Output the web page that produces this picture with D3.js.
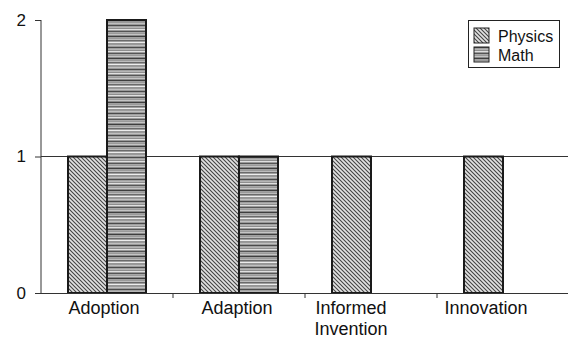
<!DOCTYPE html>
<html><head><meta charset="utf-8">
<script src="https://cdn.jsdelivr.net/npm/d3@7"></script>
<style>
html,body{margin:0;padding:0;background:#fff;}
svg{display:block;font-family:"Liberation Sans",Arial,sans-serif;}
</style></head>
<body><svg id="c" width="568" height="339"></svg>
<script>
const categories = ["Adoption", "Adaption", "Informed\nInvention", "Innovation"];
const seriesNames = ["Physics", "Math"];
const physics = [1, 1, 1, 1];
const math = [2, 1, 0, 0];
const yTicks = [0, 1, 2];
const gridValues = [1];

const svg = d3.select("#c");
const defs = svg.append("defs");

// Physics: diagonal hatch
const p1 = defs.append("pattern").attr("id","pPhys").attr("patternUnits","userSpaceOnUse")
  .attr("width",4).attr("height",4);
p1.append("rect").attr("width",4).attr("height",4).attr("fill","#e2e2e2");
p1.append("path").attr("d","M-1,-1L5,5M-1,3L1,5M3,-1L5,1").attr("stroke","#444").attr("stroke-width",1.1);

// Math: horizontal irregular stripes
const rows = ["#9a9a9a","#c0c0c0","#9a9a9a","#4a4a4a","#a0a0a0","#b5b5b5","#8e8e8e","#e0e0e0","#9a9a9a","#555555","#a8a8a8","#9a9a9a","#c5c5c5","#8a8a8a","#3e3e3e","#a0a0a0","#9a9a9a","#bcbcbc","#6a6a6a","#9e9e9e","#ececec","#959595"];
const p2 = defs.append("pattern").attr("id","pMath").attr("patternUnits","userSpaceOnUse")
  .attr("width",4).attr("height",rows.length);
rows.forEach((c,i)=>p2.append("rect").attr("x",0).attr("y",i).attr("width",4).attr("height",1).attr("fill",c));

const fills = {Physics:"url(#pPhys)", Math:"url(#pMath)"};

const x = d3.scaleBand().domain(categories).range([41, 569]).padding(0);
const xs = d3.scaleBand().domain(seriesNames).range([27, 105]).padding(0);
const y = d3.scaleLinear().domain([0, 2]).range([293, 20]);

// gridline
svg.selectAll(".grid").data(gridValues).enter().append("line")
  .attr("x1", 41).attr("x2", 568).attr("y1", d=>y(d)).attr("y2", d=>y(d))
  .attr("stroke","#333").attr("stroke-width",1).attr("shape-rendering","crispEdges");

// bars
const data = [];
categories.forEach((c,i)=>{
  data.push({cat:c, s:"Physics", v:physics[i]});
  data.push({cat:c, s:"Math", v:math[i]});
});
svg.selectAll(".bar").data(data.filter(d=>d.v>0)).enter().append("rect")
  .attr("x", d=>x(d.cat)+xs(d.s))
  .attr("y", d=>y(d.v))
  .attr("width", xs.bandwidth())
  .attr("height", d=>y(0)-y(d.v))
  .attr("fill", d=>fills[d.s])
  .attr("stroke","#1a1a1a").attr("stroke-width",2);

// baseline
svg.append("line").attr("x1",41).attr("x2",568).attr("y1",y(0)).attr("y2",y(0))
  .attr("stroke","#333").attr("stroke-width",1).attr("shape-rendering","crispEdges");

// y axis
const yAxis = d3.axisLeft(y).tickValues(yTicks).tickFormat(d3.format("d")).tickSize(6).tickPadding(9);
const gy = svg.append("g").attr("transform","translate(41,0)").call(yAxis);
gy.select(".domain").attr("stroke","#333").attr("d","M0,"+y(2)+"V"+y(0));
gy.selectAll(".tick line").attr("stroke","#333");
gy.selectAll("text").attr("font-size",17).attr("fill","#111").attr("font-family","Liberation Sans, Arial, sans-serif");

// x ticks between categories
svg.selectAll(".xt").data(categories.slice(1)).enter().append("line")
  .attr("x1", d=>x(d)).attr("x2", d=>x(d)).attr("y1", y(0)).attr("y2", y(0)+5)
  .attr("stroke","#333").attr("stroke-width",1);

// category labels
const labelDx = [-3, -2, -20, -17];
categories.forEach((c,i)=>{
  const t = svg.append("text").attr("text-anchor","middle").attr("font-size",18).attr("fill","#111");
  c.split("\n").forEach((ln,j)=>{
    t.append("tspan").attr("x", x(c)+x.bandwidth()/2+labelDx[i]).attr("y", 314 + j*21).text(ln);
  });
});

// legend
const lg = svg.append("g");
lg.append("rect").attr("x",468.5).attr("y",20.5).attr("width",91).attr("height",47)
  .attr("fill","#fff").attr("stroke","#222").attr("stroke-width",1);
seriesNames.forEach((s,i)=>{
  lg.append("rect").attr("x",474).attr("y",28+i*19).attr("width",15).attr("height",15)
    .attr("fill",fills[s]).attr("stroke","#222").attr("stroke-width",1);
  lg.append("text").attr("x",498).attr("y",42+i*19).attr("font-size",16).attr("fill","#111").text(s);
});
</script></body></html>
